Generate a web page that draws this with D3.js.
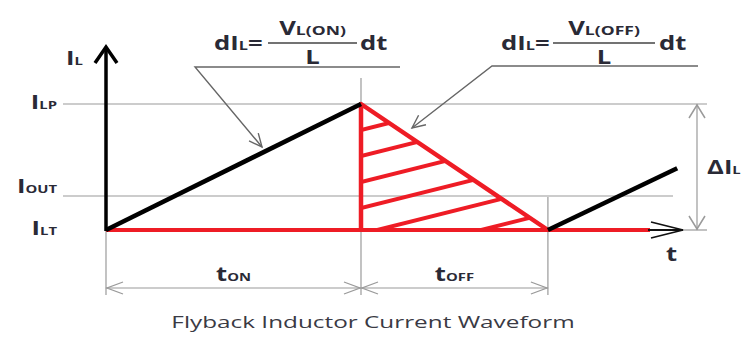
<!DOCTYPE html>
<html>
<head>
<meta charset="utf-8">
<script src="https://cdn.jsdelivr.net/npm/d3@7"></script>
<style>
  body { margin: 0; background: #fff; }
  text { font-family: "Open Sans", "DejaVu Sans", sans-serif; fill: #2a2a36; }
</style>
</head>
<body>
<div id="chart"></div>
<script>
// waveform values (time in units of tON, current normalised I_LT=0 .. I_LP=1)
var levelNames = ["LT", "OUT", "LP"];
var levelValues = [0, 0.27, 1];
var onRamp = [[0, 0], [1, 1]];
var offRamp = [[1, 1], [1.733, 0]];
var nextRamp = [[1.733, 0], [2.24, 0.49]];
var offTriangle = [[1, 0], [1, 1], [1.733, 0]];
var hatchStart = [0.794, 0.587, 0.381, 0.175, -0.032, -0.238];
var hatchSlope = 0.506;
var periodMarks = [0, 1, 1.733];
var periodLabels = ["ON", "OFF"];

var width = 743, height = 337;
var stretch = 1.35;

var svg = d3.select("#chart").append("svg")
            .attr("width", width)
            .attr("height", height);

var x = d3.scaleLinear().domain([0, 1]).range([106, 361]);
var y = d3.scaleLinear().domain([0, 1]).range([230, 104]);

var line = d3.line().x(d => x(d[0])).y(d => y(d[1]));

var grey = "#9a9a9a";

function chevron(g, tx, ty, ang, len, half, color, sw) {
  // open arrow head pointing in direction ang (radians)
  var c = Math.cos(ang), s = Math.sin(ang);
  var p = [
    [tx - len * c + half * s, ty - len * s - half * c],
    [tx, ty],
    [tx - len * c - half * s, ty - len * s + half * c]
  ];
  g.append("path")
   .attr("d", d3.line()(p))
   .attr("fill", "none")
   .attr("stroke", color)
   .attr("stroke-width", sw)
   .attr("stroke-linejoin", "miter");
}

// text that is a bit wider than the font, like the source picture
function label(tx, ty, anchor) {
  return svg.append("g")
    .attr("transform", "translate(" + tx + "," + ty + ") scale(" + stretch + ",1)")
    .append("text")
    .attr("text-anchor", anchor || "start")
    .attr("font-weight", "bold");
}

function bigSmall(t, big, small, bs, ss) {
  t.append("tspan").attr("font-size", bs || 19).text(big);
  t.append("tspan").attr("font-size", ss || 12).text(small);
  return t;
}

// grey guide lines
var guides = svg.append("g").attr("stroke", grey).attr("stroke-width", 1.2).attr("fill", "none");

guides.append("line")
  .attr("x1", 63).attr("x2", 707)
  .attr("y1", y(levelValues[2])).attr("y2", y(levelValues[2]));
guides.append("line")
  .attr("x1", 63).attr("x2", 673)
  .attr("y1", y(levelValues[1])).attr("y2", y(levelValues[1]));
guides.append("line")
  .attr("x1", 683).attr("x2", 707)
  .attr("y1", y(levelValues[0])).attr("y2", y(levelValues[0]));

guides.append("line")
  .attr("x1", x(periodMarks[0])).attr("x2", x(periodMarks[0]))
  .attr("y1", y(0)).attr("y2", 295);
guides.append("line")
  .attr("x1", x(periodMarks[1])).attr("x2", x(periodMarks[1]))
  .attr("y1", 78).attr("y2", 295);
guides.append("line")
  .attr("x1", x(periodMarks[2])).attr("x2", x(periodMarks[2]))
  .attr("y1", 197).attr("y2", 295);

// dimension arrows for tON / tOFF
var dimY = 288;
for (var i = 0; i < periodLabels.length; i++) {
  var a = x(periodMarks[i]), b = x(periodMarks[i + 1]);
  guides.append("line").attr("x1", a).attr("x2", b).attr("y1", dimY).attr("y2", dimY);
  chevron(svg, a + 1, dimY, Math.PI, 16, 6, grey, 1.3);
  chevron(svg, b - 1, dimY, 0, 16, 6, grey, 1.3);

  bigSmall(label((a + b) / 2, 281, "middle"), "t", periodLabels[i], 19, 11);
}

// delta I arrow
guides.append("line")
  .attr("x1", 697).attr("x2", 697)
  .attr("y1", y(1)).attr("y2", y(0));
chevron(svg, 697, y(1) + 1, -Math.PI / 2, 13, 8, grey, 1.5);
chevron(svg, 697, y(0) - 1, Math.PI / 2, 13, 8, grey, 1.5);

// hatched off-time area
svg.append("clipPath").attr("id", "tri")
   .append("path").attr("d", line(offTriangle) + "Z");

svg.append("g")
  .attr("clip-path", "url(#tri)")
  .selectAll("line")
  .data(hatchStart)
  .enter().append("line")
    .attr("x1", x(1)).attr("y1", d => y(d))
    .attr("x2", x(2.2)).attr("y2", d => y(d + hatchSlope * 1.2))
    .attr("stroke", "#ee1c25")
    .attr("stroke-width", 4);

// red baseline and off-ramp
svg.append("line")
  .attr("x1", x(0)).attr("x2", 650)
  .attr("y1", y(0)).attr("y2", y(0))
  .attr("stroke", "#ee1c25").attr("stroke-width", 4);

svg.append("path")
  .attr("d", line([[1, 0]].concat(offRamp)))
  .attr("fill", "none")
  .attr("stroke", "#ee1c25")
  .attr("stroke-width", 4.5)
  .attr("stroke-linejoin", "round");

// black ramps
svg.append("path").attr("d", line(onRamp))
   .attr("fill", "none").attr("stroke", "#000").attr("stroke-width", 4.5);
svg.append("path").attr("d", line(nextRamp))
   .attr("fill", "none").attr("stroke", "#000").attr("stroke-width", 4.5);

// t axis arrow head
svg.append("line")
  .attr("x1", 648).attr("x2", 683)
  .attr("y1", y(0)).attr("y2", y(0))
  .attr("stroke", "#111").attr("stroke-width", 1.8);
chevron(svg, 683, y(0), 0, 32, 8, "#111", 1.8);

// I axis
svg.append("line")
  .attr("x1", x(0)).attr("x2", x(0))
  .attr("y1", y(0) + 1).attr("y2", 47)
  .attr("stroke", "#000").attr("stroke-width", 3.5);
chevron(svg, x(0), 47, -Math.PI / 2, 16, 11, "#000", 3.5);

// axis labels
bigSmall(label(66, 65), "I", "L", 19, 11);

var levelDy = [5, -3, 5];
levelNames.forEach((d, i) => {
  bigSmall(label(57, y(levelValues[i]) + levelDy[i], "end"), "I", d, 19, 11);
});

label(666, 261).attr("font-size", 19).text("t");
bigSmall(label(707, 174), "ΔI", "L", 19, 11);

// formulas with leaders
function formula(x0, barX1, barX2, sub, dtX) {
  var t = label(x0, 50);
  bigSmall(t, "dI", "L", 19, 12);
  t.append("tspan").attr("font-size", 19).text("=");

  svg.append("line")
    .attr("x1", barX1).attr("x2", barX2)
    .attr("y1", 43).attr("y2", 43)
    .attr("stroke", "#444").attr("stroke-width", 1.6);

  bigSmall(label((barX1 + barX2) / 2, 35, "middle"), "V", "L(" + sub + ")", 19, 13);
  label((barX1 + barX2) / 2, 64, "middle").attr("font-size", 19).text("L");
  label(dtX, 50).attr("font-size", 19).text("dt");
}

formula(214, 268, 357, "ON", 360);
formula(501, 553, 655, "OFF", 659);

var leader = "#666";
svg.append("path")
  .attr("d", d3.line()([[400, 67], [195, 67], [262, 147]]))
  .attr("fill", "none").attr("stroke", leader).attr("stroke-width", 1.4);
chevron(svg, 262, 147, Math.atan2(80, 67), 13, 6, leader, 1.4);

svg.append("path")
  .attr("d", d3.line()([[698, 66], [492, 66], [412, 128]]))
  .attr("fill", "none").attr("stroke", leader).attr("stroke-width", 1.4);
chevron(svg, 412, 128, Math.atan2(62, -80), 13, 6, leader, 1.4);

// caption
svg.append("g")
  .attr("transform", "translate(373,328) scale(1.52,1)")
  .append("text")
  .attr("text-anchor", "middle")
  .attr("font-size", 16)
  .style("fill", "#3a3a44")
  .text("Flyback Inductor Current Waveform");
</script>
</body>
</html>
